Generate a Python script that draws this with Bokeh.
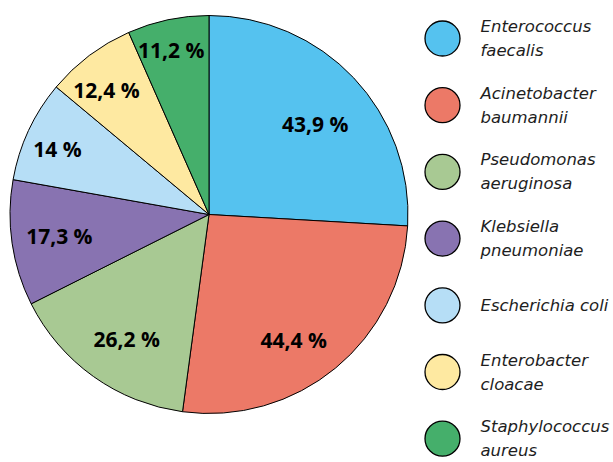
import math
from bokeh.plotting import figure
from bokeh.models import Range1d, ColumnDataSource
from bokeh.core.properties import value
from bokeh.embed import file_html
from bokeh.resources import INLINE

# ---- data ----
species = ["Enterococcus\nfaecalis", "Acinetobacter\nbaumannii", "Pseudomonas\naeruginosa",
           "Klebsiella\npneumoniae", "Escherichia coli", "Enterobacter\ncloacae",
           "Staphylococcus\naureus"]
values = [43.9, 44.4, 26.2, 17.3, 14.0, 12.4, 11.2]
value_labels = ["43,9 %", "44,4 %", "26,2 %", "17,3 %", "14 %", "12,4 %", "11,2 %"]
colors = ["#55C2EF", "#EC7967", "#A8C993", "#8873B1", "#B6DEF6", "#FEE9A1", "#45AF6B"]

# label placement style (fraction of radius, angular shift in degrees)
label_rfrac = [0.70, 0.76, 0.75, 0.76, 0.83, 0.81, 0.85]
label_dang = [-3.0, -5.5, 2.0, 0.0, 1.5, 2.5, 1.0]

W, H = 613, 462
p = figure(width=W, height=H, x_range=Range1d(0, W), y_range=Range1d(0, H),
           output_backend="svg", toolbar_location=None, min_border=0)
p.axis.visible = False
p.grid.visible = False
p.outline_line_color = None
p.background_fill_color = "white"

cx, cy, r = 208.5, H - 214, 199
total = sum(values)
starts, ends, lx, ly = [], [], [], []
cum = 0.0
for i, v in enumerate(values):
    a0 = math.pi / 2 - cum / total * 2 * math.pi
    cum += v
    a1 = math.pi / 2 - cum / total * 2 * math.pi
    starts.append(a0)
    ends.append(a1)
    mid = (a0 + a1) / 2 + math.radians(label_dang[i])
    lx.append(cx + label_rfrac[i] * r * math.cos(mid))
    ly.append(cy + label_rfrac[i] * r * math.sin(mid))

src = ColumnDataSource(dict(start=starts, end=ends, color=colors, lx=lx, ly=ly, lab=value_labels))
p.wedge(x=cx, y=cy, radius=r, start_angle="start", end_angle="end", direction="clock",
        fill_color="color", line_color="black", line_width=1, source=src)
p.text(x="lx", y="ly", text="lab", source=src, text_align="center", text_baseline="middle",
       text_font=value("Open Sans"), text_font_style="bold", text_font_size="21px", text_color="black")

# legend
lg_x, lg_top, lg_step = 442, 38, 66.7
lcx, lcy, tx, ty, tt = [], [], [], [], []
for i, name in enumerate(species):
    yc = H - (lg_top + i * lg_step)
    lcx.append(lg_x)
    lcy.append(yc)
    lines = name.split("\n")
    n = len(lines)
    for j, ln in enumerate(lines):
        tx.append(480)
        ty.append(yc + (n - 1) * 12 - j * 24)
        tt.append(ln)

p.circle(x=lcx, y=lcy, radius=17.5, fill_color=colors, line_color="black", line_width=1.3)
p.text(x=tx, y=ty, text=tt, text_align="left", text_baseline="middle",
       text_font=value("DejaVu Sans"), text_font_style="italic", text_font_size="16.5px",
       text_color="#1e1e1e")

open("out.html", "w").write(file_html(p, INLINE))
